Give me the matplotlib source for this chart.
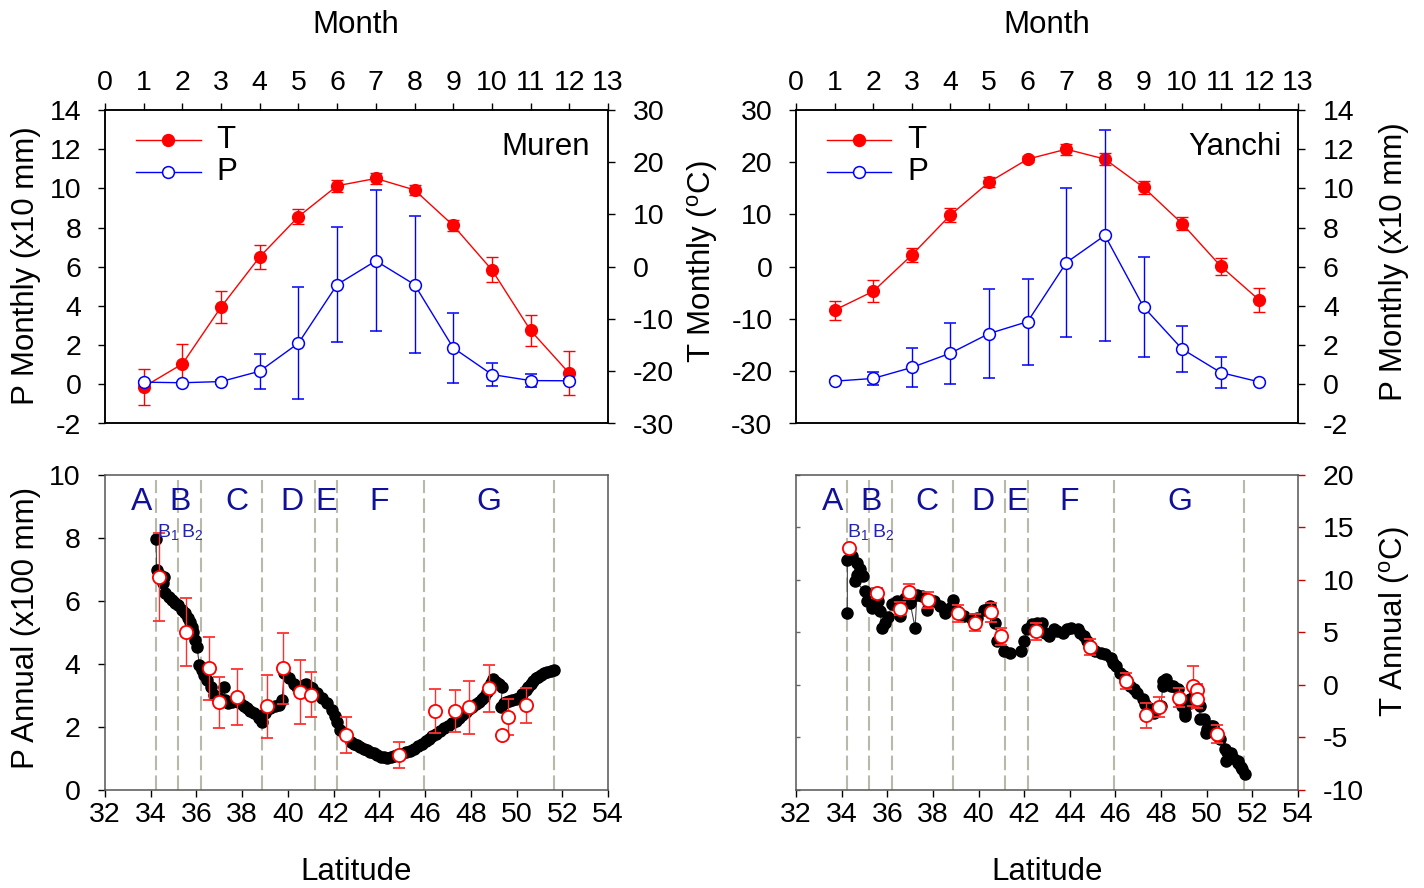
import numpy as np
import matplotlib
matplotlib.use('Agg')
import matplotlib.pyplot as plt
from matplotlib.ticker import FixedLocator

plt.rcParams['font.family'] = ['Liberation Sans', 'DejaVu Sans']
plt.rcParams['mathtext.fontset'] = 'custom'
plt.rcParams['mathtext.rm'] = 'Liberation Sans'
plt.rcParams['mathtext.it'] = 'Liberation Sans:italic'
plt.rcParams['axes.unicode_minus'] = False

# ---- monthly climate (top panels) ----
months = np.arange(1, 13)

muren_t = [-23.0, -18.6, -7.7, 1.9, 9.6, 15.5, 16.9, 14.7, 7.9, -0.6, -12.2, -20.4]
muren_t_err = [3.5, 3.8, 3.1, 2.3, 1.5, 1.1, 1.1, 1.0, 1.1, 2.4, 3.0, 4.2]
muren_p = [0.11, 0.08, 0.14, 0.67, 2.1, 5.09, 6.3, 5.09, 1.86, 0.5, 0.19, 0.18]
muren_p_err = [0.05, 0.05, 0.1, 0.9, 2.86, 2.95, 3.6, 3.5, 1.8, 0.6, 0.33, 0.1]

yanchi_t = [-8.3, -4.7, 2.25, 9.9, 16.2, 20.6, 22.5, 20.6, 15.2, 8.25, 0.1, -6.4]
yanchi_t_err = [1.8, 2.1, 1.4, 1.3, 1.0, 0.6, 1.05, 1.2, 1.2, 1.2, 1.65, 2.3]
yanchi_p = [0.16, 0.3, 0.86, 1.59, 2.59, 3.2, 6.21, 7.6, 3.95, 1.8, 0.6, 0.12]
yanchi_p_err = [0.05, 0.34, 0.99, 1.56, 2.25, 2.2, 3.8, 5.4, 2.56, 1.16, 0.77, 0.05]

# ---- annual values along the transect (bottom panels) ----
muren_lat = [34.23, 34.26, 34.41, 34.56, 34.53, 34.63, 34.78, 34.92, 35.07, 35.21,
             35.36, 35.51, 35.61, 35.7, 35.8, 35.87, 35.94, 36.02, 36.13, 36.24,
             36.31, 36.48, 36.63, 36.75, 36.97, 37.19, 37.26, 37.4, 37.55, 37.7,
             37.92, 38.06, 38.21, 38.35, 38.5, 38.72, 38.87, 39.01, 39.23, 39.45,
             39.6, 39.74, 39.84, 40.03, 40.25, 40.4, 40.55, 40.69, 40.81, 40.96,
             41.06, 41.28, 41.5, 41.71, 41.93, 42.05, 42.15, 42.3, 42.52, 42.74,
             42.88, 43.03, 43.17, 43.32, 43.47, 43.61, 43.76, 43.9, 44.05, 44.2,
             44.34, 44.49, 44.63, 44.78, 44.96, 45.15, 45.34, 45.51, 45.7, 45.88,
             46.02, 46.17, 46.31, 46.46, 46.65, 46.83, 47.02, 47.19, 47.34, 47.48,
             47.63, 47.78, 47.92, 48.07, 48.21, 48.36, 48.47, 48.58, 48.69, 48.8,
             48.9, 48.99, 49.12, 49.24, 49.38, 49.31, 49.43, 49.53, 49.67, 49.82,
             49.97, 50.11, 50.26, 50.4, 50.52, 50.62, 50.74, 50.84, 50.95, 51.06,
             51.21, 51.35, 51.5, 51.65]
muren_pa = [7.97, 6.98, 6.82, 6.77, 6.56, 6.24, 6.13, 6.03, 5.92, 5.87,
            5.71, 5.6, 5.45, 5.34, 5.18, 5.02, 4.75, 4.54, 3.96, 3.8,
            3.64, 3.48, 3.27, 3.0, 2.9, 3.27, 2.86, 2.75, 2.77, 2.8,
            2.75, 2.66, 2.59, 2.51, 2.43, 2.27, 2.16, 2.43, 2.59, 2.64,
            2.69, 2.85, 3.7, 3.54, 3.37, 3.27, 3.22, 3.32, 3.37, 3.27,
            3.22, 3.06, 2.9, 2.74, 2.53, 2.33, 2.16, 1.89, 1.73, 1.52,
            1.46, 1.41, 1.36, 1.3, 1.25, 1.2, 1.15, 1.09, 1.04, 1.02,
            1.01, 1.02, 1.05, 1.09, 1.13, 1.18, 1.24, 1.3, 1.38, 1.46,
            1.55, 1.62, 1.7, 1.78, 1.86, 1.94, 2.02, 2.1, 2.18, 2.26,
            2.37, 2.47, 2.55, 2.63, 2.71, 2.79, 2.87, 2.95, 3.11, 3.27,
            3.4, 3.5, 3.43, 3.37, 3.27, 2.63, 2.74, 2.79, 2.82, 2.84,
            2.87, 2.9, 3.03, 3.16, 3.27, 3.37, 3.46, 3.53, 3.59, 3.64,
            3.69, 3.75, 3.78, 3.8]

yanchi_lat = [34.25, 34.25, 34.44, 34.66, 34.8, 34.66, 34.95, 34.59, 35.03, 35.1,
              35.32, 35.61, 35.69, 35.76, 35.9, 36.05, 36.2, 36.42, 36.56, 36.78,
              37.0, 37.22, 37.3, 37.52, 37.74, 38.03, 38.33, 38.55, 38.77, 38.9,
              39.06, 39.35, 39.72, 39.94, 40.23, 40.52, 40.74, 40.82, 41.11, 41.4,
              41.84, 41.99, 42.14, 42.36, 42.55, 42.8, 42.91, 43.09, 43.31, 43.42,
              43.68, 43.86, 44.05, 44.34, 44.45, 44.63, 44.74, 44.93, 45.1, 45.36,
              45.54, 45.8, 45.91, 46.02, 46.2, 46.39, 46.49, 46.64, 46.83, 46.93,
              47.2, 47.29, 47.49, 47.71, 48.0, 48.07, 48.1, 48.22, 48.44, 48.54,
              48.73, 48.88, 48.9, 49.03, 49.05, 49.25, 49.27, 49.47, 49.69, 49.7,
              49.9, 49.98, 50.0, 50.2, 50.29, 50.49, 50.58, 50.79, 50.86, 50.87,
              51.08, 51.16, 51.37, 51.38, 51.52, 51.53, 51.67]
yanchi_ta = [6.86, 11.93, 12.25, 11.6, 11.0, 10.5, 10.34, 9.87, 8.9, 7.96,
             7.33, 7.96, 7.0, 5.43, 5.9, 6.5, 7.65, 7.96, 6.53, 8.28,
             7.8, 5.43, 8.6, 8.44, 7.17, 7.96, 7.49, 6.86, 7.33, 8.12,
             7.01, 6.53, 6.22, 6.38, 7.17, 7.49, 5.9, 4.15, 3.2, 3.05,
             3.2, 4.15, 5.27, 5.74, 5.84, 5.9, 4.95, 4.63, 5.27, 5.11,
             4.95, 5.27, 5.43, 5.27, 4.95, 4.63, 4.16, 3.52, 3.2, 3.05,
             2.89, 2.57, 2.09, 1.77, 1.14, 0.82, 0.35, -0.12, -0.45, -0.76,
             -1.4, -1.87, -2.19, -2.67, -2.04, -0.13, 0.35, 0.5, -0.13, -0.12,
             -0.45, -1.71, -2.03, -2.99, -2.66, -1.4, -1.71, -0.76, -2.04, -3.3,
             -3.3, -4.57, -4.25, -3.94, -3.93, -4.89, -5.2, -6.16, -7.27, -6.47,
             -6.48, -6.95, -7.43, -7.27, -7.9, -8.06, -8.54]

# sampled sites (red open circles)
muren_s_lat = [34.34, 35.54, 36.56, 36.97, 37.77, 39.08, 39.8, 40.55, 41.01, 42.52,
               44.88, 46.45, 47.29, 47.91, 48.8, 49.38, 49.63, 50.42]
muren_s_p = [6.75, 5.01, 3.85, 2.77, 2.94, 2.65, 3.85, 3.09, 3.02, 1.72,
             1.1, 2.49, 2.49, 2.61, 3.22, 1.74, 2.3, 2.68]
muren_s_err = [1.4, 1.08, 1.0, 0.8, 0.9, 1.0, 1.14, 1.02, 0.73, 0.57,
               0.41, 0.7, 0.67, 0.84, 0.74, 0.05, 0.58, 0.56]

yanchi_s_lat = [34.34, 35.54, 36.56, 36.97, 37.77, 39.11, 39.84, 40.56, 41.0, 42.52,
                44.9, 46.46, 47.32, 47.92, 48.8, 49.41, 49.59, 49.59, 50.44]
yanchi_s_t = [13.05, 8.76, 7.24, 8.86, 8.06, 6.82, 5.9, 6.89, 4.6, 5.1,
              3.58, 0.34, -2.92, -2.13, -1.24, -0.13, -0.51, -1.4, -4.67]
yanchi_s_err = [0.2, 0.5, 0.6, 0.7, 0.78, 0.8, 0.8, 0.9, 0.83, 0.8,
                0.75, 0.8, 1.2, 1.0, 0.9, 1.9, 0.6, 0.8, 0.85]

# zone boundaries and labels
bounds = [34.25, 35.2, 36.22, 38.87, 41.18, 42.15, 45.95, 51.65]
zones = ['A', 'B', 'C', 'D', 'E', 'F', 'G']
zone_x = [33.6, 35.27, 37.76, 40.18, 41.69, 43.98, 48.8]
sub_zones = ['B$_1$', 'B$_2$']
sub_x = [34.74, 35.8]

W, H = 1424, 888
fig = plt.figure(figsize=(W / 100, H / 100), dpi=100)

TICK_FS = 20.5
LAB_FS = 22.5
PAD_L = 12      # tick label pad, labels on the left
PAD_R = 13      # tick label pad, labels on the right
bottom_spine = '#555555'


def box(left, top, right, bottom):
    return [left / W, 1 - bottom / H, (right - left) / W, (bottom - top) / H]


def monthly(ax_p, ax_t, t, t_err, p, p_err):
    ax_t.errorbar(months, t, yerr=t_err, color='red', marker='o', ms=8.5,
                  mfc='red', mec='red', lw=1, elinewidth=1, capsize=4)
    ax_p.errorbar(months, p, yerr=p_err, color='blue', marker='o', ms=8.5,
                  mfc='white', mec='blue', mew=1.1, lw=1, elinewidth=1, capsize=4)


def style_top(ax_left, ax_right, ax_p, ax_t):
    ax_left.set_xlim(0, 13)
    ax_left.set_xticks(range(14))
    ax_left.xaxis.tick_top()
    ax_left.tick_params(axis='x', direction='out', length=5, width=1, pad=5,
                        labelsize=TICK_FS, top=True, bottom=False)
    ax_p.set_ylim(-2, 14)
    ax_p.set_yticks(range(-2, 15, 2))
    ax_t.set_ylim(-30, 30)
    ax_t.set_yticks(range(-30, 31, 10))
    ax_left.tick_params(axis='y', direction='out', length=5, width=1, pad=PAD_L,
                        labelsize=TICK_FS)
    ax_right.tick_params(axis='y', direction='out', length=5, width=1, pad=PAD_R,
                         labelsize=TICK_FS)
    for a in (ax_p, ax_t):
        for s in a.spines.values():
            s.set_linewidth(1.1)


def legend_and_name(ax, name, name_x):
    for yy, fc, ec, lab in [(0.904, 'red', 'red', 'T'), (0.803, 'white', 'blue', 'P')]:
        ax.plot([0.062, 0.19], [yy, yy], color=ec, lw=1, transform=ax.transAxes,
                clip_on=False, zorder=5)
        ax.plot([0.126], [yy], 'o', ms=8.5, mfc=fc, mec=ec, mew=1.1,
                transform=ax.transAxes, clip_on=False, zorder=6)
        ax.text(0.222, yy, lab, fontsize=LAB_FS, va='center', ha='left',
                transform=ax.transAxes)
    ax.text(name_x, 0.883, name, fontsize=LAB_FS, va='center', ha='right',
            transform=ax.transAxes)


# ---------- top left: Muren ----------
ax1 = fig.add_axes(box(105, 110, 608, 423.5))
ax1t = ax1.twinx()
ax1.set_zorder(ax1t.get_zorder() + 1)
ax1.patch.set_visible(False)
monthly(ax1, ax1t, muren_t, muren_t_err, muren_p, muren_p_err)
style_top(ax1, ax1t, ax1, ax1t)
legend_and_name(ax1, 'Muren', 0.964)

# ---------- top right: Yanchi ----------
ax2 = fig.add_axes(box(796, 110, 1298, 423.5))
ax2p = ax2.twinx()
monthly(ax2p, ax2, yanchi_t, yanchi_t_err, yanchi_p, yanchi_p_err)
style_top(ax2, ax2p, ax2p, ax2)
legend_and_name(ax2p, 'Yanchi', 0.9675)


def annual(ax, lat, vals, s_lat, s_val, s_err):
    for b in bounds:
        ax.axvline(b, ymax=0.985, color='#b9b9aa', lw=1.5, dashes=(7, 2.5), zorder=1)
    ax.plot(lat, vals, '-', color='#444444', lw=0.8, zorder=2)
    ax.plot(lat, vals, 'o', color='black', ms=8, zorder=2)
    ax.errorbar(s_lat, s_val, yerr=s_err, fmt='o', ms=9.5, mfc='white', mec='red',
                mew=1.3, ecolor='#ff3030', elinewidth=1, capsize=4, zorder=3)
    for z, zx in zip(zones, zone_x):
        ax.text(zx, 0.914, z, color='#10109a', fontsize=23, ha='center', va='center',
                transform=ax.get_xaxis_transform())
    for z, zx in zip(sub_zones, sub_x):
        ax.text(zx, 0.818, z, color='#2424b4', fontsize=14, ha='center', va='center',
                transform=ax.get_xaxis_transform())
    ax.set_xlim(32, 54)
    ax.set_xticks(range(32, 55, 2))
    ax.tick_params(axis='x', direction='out', length=5, width=1, pad=4,
                   labelsize=TICK_FS, top=False)
    for s in ax.spines.values():
        s.set_color(bottom_spine)
        s.set_linewidth(1.1)


# ---------- bottom left: P annual ----------
ax3 = fig.add_axes(box(105, 475, 608, 789.5))
annual(ax3, muren_lat, muren_pa, muren_s_lat, muren_s_p, muren_s_err)
ax3.set_ylim(0, 10)
ax3.set_yticks(range(0, 11, 2))
ax3.tick_params(axis='y', direction='out', length=5, width=1, pad=PAD_L + 0.5,
                labelsize=TICK_FS, right=False)

# ---------- bottom right: T annual ----------
ax4 = fig.add_axes(box(796, 475, 1298, 789.5))
annual(ax4, yanchi_lat, yanchi_ta, yanchi_s_lat, yanchi_s_t, yanchi_s_err)
t_ticks = list(range(-10, 21, 5))
ax4.set_ylim(-10, 20)
ax4.set_yticks(t_ticks)
# short inward ticks on the left spine, as minor ticks on the same values
ax4.yaxis.set_minor_locator(FixedLocator(t_ticks))
ax4.yaxis.remove_overlapping_locs = False
ax4.tick_params(axis='y', which='major', direction='out', length=5, width=1,
                pad=PAD_R, labelsize=TICK_FS, color='#cc0000', left=False,
                right=True, labelleft=False, labelright=True)
ax4.tick_params(axis='y', which='minor', direction='in', length=3, width=1,
                color='#666666', left=True, right=False, labelleft=False,
                labelright=False)

# ---------- axis titles ----------
fig.text(356 / W, 1 - 25 / H, 'Month', fontsize=LAB_FS, ha='center', va='center')
fig.text(1047 / W, 1 - 25 / H, 'Month', fontsize=LAB_FS, ha='center', va='center')
fig.text(356 / W, 1 - 872 / H, 'Latitude', fontsize=LAB_FS, ha='center', va='center')
fig.text(1047 / W, 1 - 872 / H, 'Latitude', fontsize=LAB_FS, ha='center', va='center')
fig.text(26 / W, 1 - 266 / H, 'P Monthly (x10 mm)', fontsize=LAB_FS, rotation=90,
         ha='center', va='center')
fig.text(702 / W, 1 - 262 / H, r'T Monthly ($^{\rm o}$C)', fontsize=LAB_FS, rotation=90,
         ha='center', va='center')
fig.text(1394 / W, 1 - 262 / H, 'P Monthly (x10 mm)', fontsize=LAB_FS, rotation=90,
         ha='center', va='center')
fig.text(26 / W, 1 - 628 / H, 'P Annual (x100 mm)', fontsize=LAB_FS, rotation=90,
         ha='center', va='center')
fig.text(1394 / W, 1 - 622 / H, r'T Annual ($^{\rm o}$C)', fontsize=LAB_FS, rotation=90,
         ha='center', va='center')

fig.savefig('out.png', dpi=100)
